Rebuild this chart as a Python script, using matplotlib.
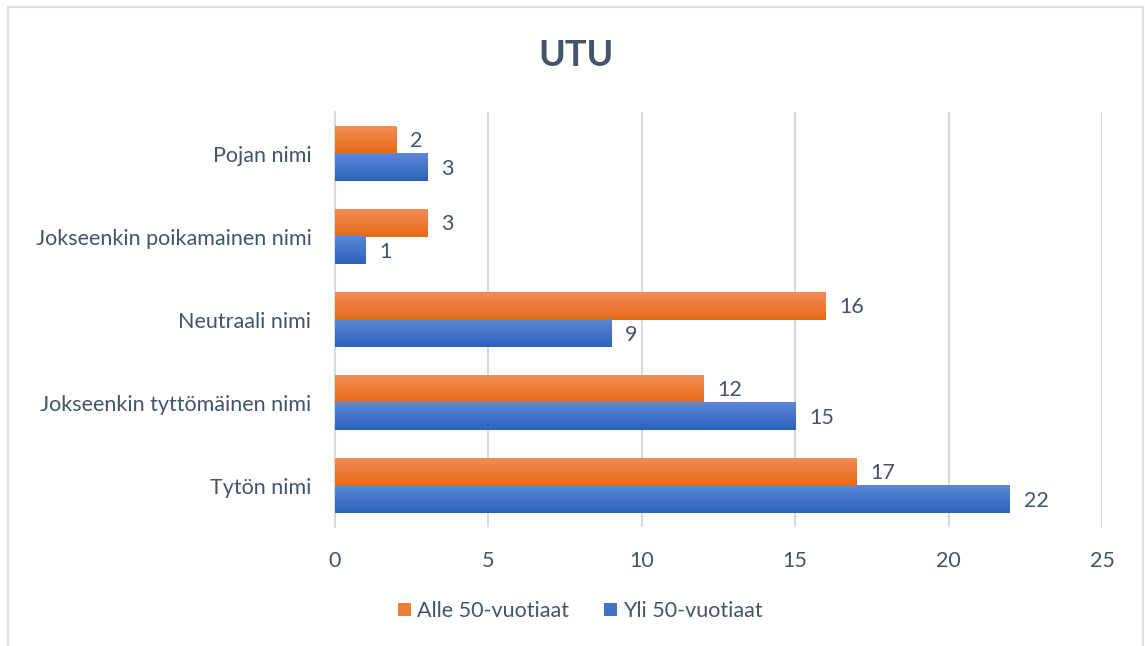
import numpy as np
import matplotlib
matplotlib.use('Agg')
import matplotlib.pyplot as plt
from matplotlib.patches import Patch, Rectangle
from matplotlib.colors import LinearSegmentedColormap

# ── data ──────────────────────────────────────────────────
categories = ["Tytön nimi", "Jokseenkin tyttömäinen nimi", "Neutraali nimi",
              "Jokseenkin poikamainen nimi", "Pojan nimi"]
alle_50 = [17, 12, 16, 3, 2]   # orange series
yli_50  = [22, 15, 9, 1, 3]    # blue series
series_names = ["Alle 50-vuotiaat", "Yli 50-vuotiaat"]
x_ticks = [0, 5, 10, 15, 20, 25]

TXT = '#44546A'
GRID = '#D9D9D9'
ORANGE = '#ED7D31'
BLUE = '#4472C4'
FS = 15.5
plt.rcParams['font.family'] = ['Lato', 'DejaVu Sans']

orange_cm = LinearSegmentedColormap.from_list('o', ['#E76A15', '#F38D56'])
blue_cm   = LinearSegmentedColormap.from_list('b', ['#2D62BD', '#5C88D6'])

fig = plt.figure(figsize=(11.45, 6.46), dpi=100)
ax = fig.add_axes([0.2926, 0.1842, 0.6698, 0.6424])

y = np.arange(len(categories))
h = 0.33
bars_o = ax.barh(y + h / 2, alle_50, height=h, color=ORANGE, zorder=2)
bars_b = ax.barh(y - h / 2, yli_50, height=h, color=BLUE, zorder=2)

# vertical gradient fill on top of each bar (Excel look)
grad = np.linspace(0, 1, 64).reshape(-1, 1)
for bars, cm in [(bars_o, orange_cm), (bars_b, blue_cm)]:
    for b in bars:
        x0, y0, w, hh = b.get_x(), b.get_y(), b.get_width(), b.get_height()
        ax.imshow(grad, cmap=cm, extent=[x0, x0 + w, y0, y0 + hh],
                  origin='lower', aspect='auto', zorder=3)

# value labels
for bars, vals in [(bars_o, alle_50), (bars_b, yli_50)]:
    for b, v in zip(bars, vals):
        ax.annotate(str(v), (b.get_width(), b.get_y() + b.get_height() / 2),
                    xytext=(10, -1), textcoords='offset points',
                    va='center', ha='left', fontsize=FS, color=TXT, zorder=4)

ax.set_xlim(0, 25)
ax.set_ylim(-0.5, len(categories) - 0.5)
ax.set_xticks(x_ticks)
ax.set_xticklabels([str(t) for t in x_ticks])
ax.set_yticks(y)
ax.set_yticklabels(categories)
ax.tick_params(axis='both', length=0, labelsize=FS, labelcolor=TXT)
ax.tick_params(axis='x', pad=17)
ax.tick_params(axis='y', pad=17)
ax.xaxis.grid(True, color=GRID, linewidth=1.5, zorder=0)
ax.set_axisbelow(True)
for s in ['top', 'right', 'bottom']:
    ax.spines[s].set_visible(False)
ax.spines['left'].set_color(GRID)
ax.spines['left'].set_linewidth(1.5)

fig.text(0.503, 0.914, "UTU", ha='center', va='center', fontsize=26,
         fontweight='bold', color=TXT)

handles = [Patch(facecolor=ORANGE), Patch(facecolor=BLUE)]
fig.legend(handles, series_names, loc='center', bbox_to_anchor=(0.507, 0.054),
           ncol=2, frameon=False, fontsize=FS, labelcolor=TXT,
           handlelength=0.6, handleheight=0.6, handletextpad=0.3, columnspacing=1.6)

# chart border
fig.patches.append(Rectangle((8 / 1145, -0.05), 1135 / 1145, 1 - 7 / 646 + 0.05,
                             transform=fig.transFigure, fill=False,
                             edgecolor='#DDE1E6', linewidth=1.5))

fig.savefig('out.png', dpi=100)
